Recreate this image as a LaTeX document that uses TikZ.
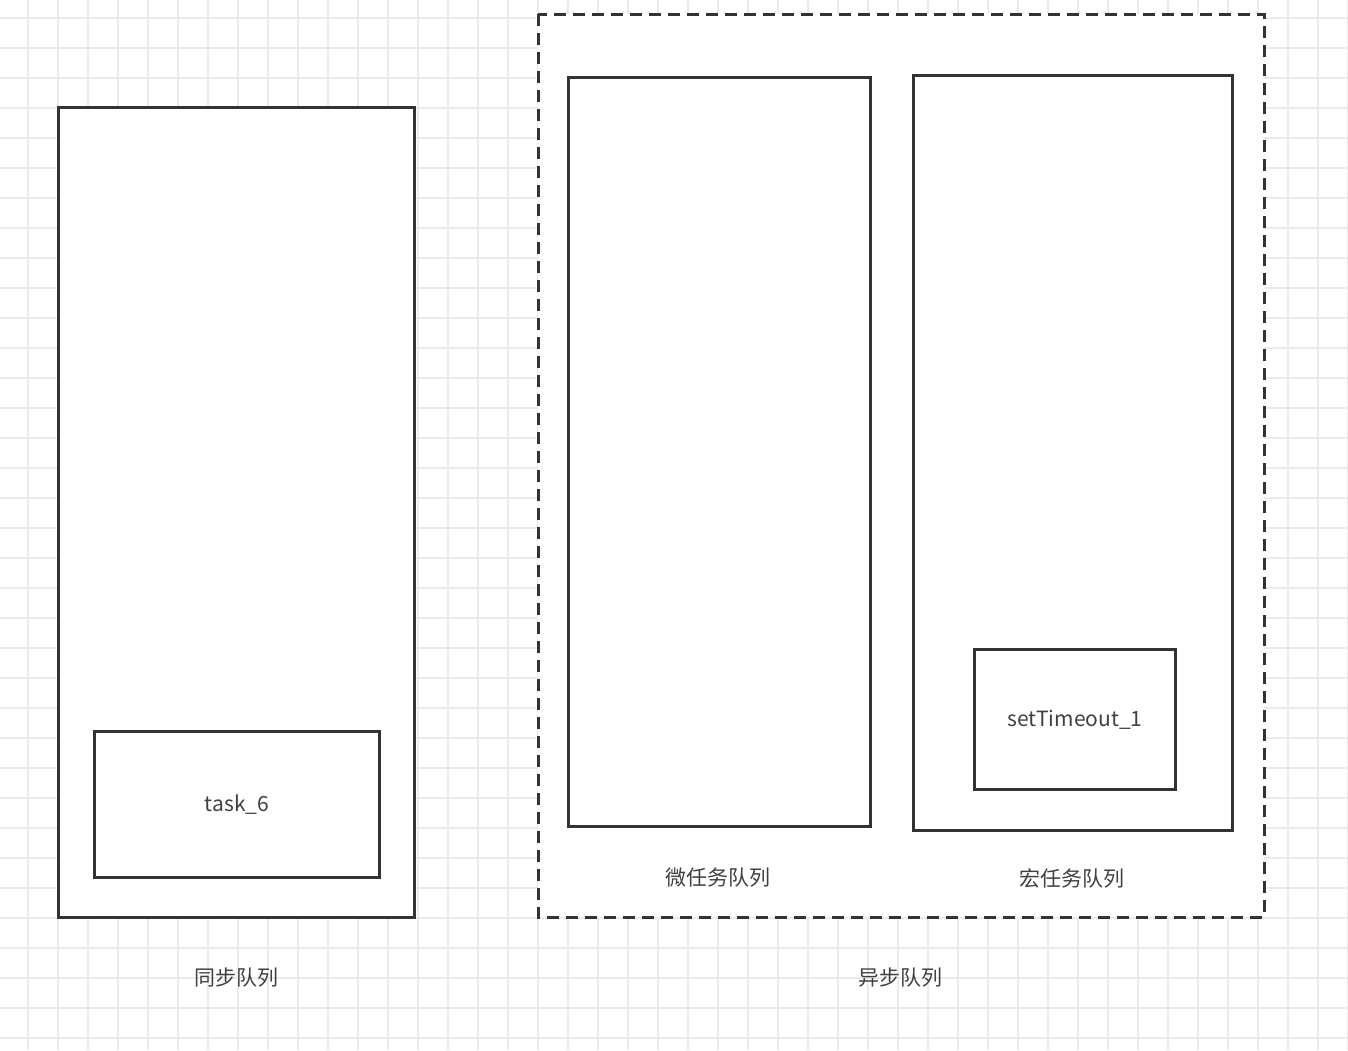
\documentclass[tikz,border=0pt]{standalone}
\usepackage{fontspec}
\setmainfont{Noto Sans CJK SC}
\begin{document}
\begin{tikzpicture}[x=1pt,y=-1pt,
  box/.style={draw=black!80,line width=3pt,fill=white},
  lab/.style={text=black!75,font=\fontsize{21}{24}\selectfont}]
\useasboundingbox (0,0) rectangle (1348,1050);
\fill[white] (0,0) rectangle (1348,1050);
\foreach \i in {0,...,44} \draw[black!8,line width=1.2pt] (28+30*\i,0) -- (28+30*\i,1050);
\foreach \i in {0,...,35} \draw[black!8,line width=1.2pt] (0,18+30*\i) -- (1348,18+30*\i);
\draw[box] (58,107) rectangle (414,917);
\node[box,minimum width=285pt,minimum height=146pt,anchor=north west,lab] (t6) at (93,730) {task\_6};
\draw[draw=black!80,line width=3pt,dash pattern=on 12pt off 7pt,fill=white] (538,14) rectangle (1264,917);
\draw[box] (568,77) rectangle (870,826);
\draw[box] (913,75) rectangle (1232,830);
\node[box,minimum width=201pt,minimum height=140pt,anchor=north west,lab] (st) at (973,648) {setTimeout\_1};
\node[lab] (l1) at (236,978) {同步队列};
\node[lab] (l2) at (900,978) {异步队列};
\node[lab] (l3) at (718,878) {微任务队列};
\node[lab] (l4) at (1072,878) {宏任务队列};
\end{tikzpicture}
\end{document}
